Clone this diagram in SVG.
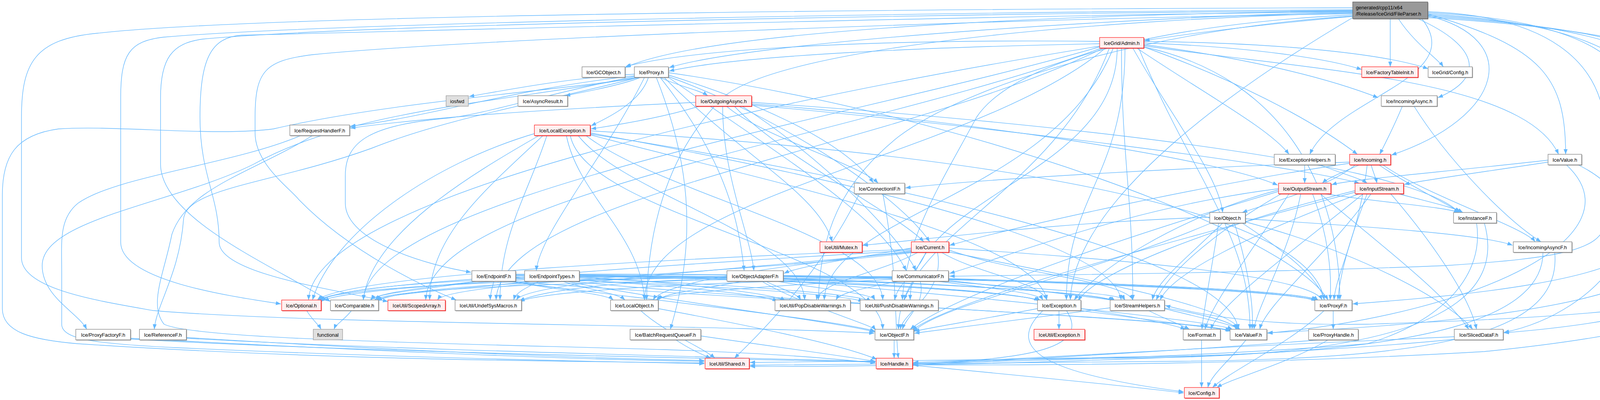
<svg xmlns="http://www.w3.org/2000/svg" width="4571" height="1024" viewBox="0 0 4571 1024">
<defs>
<marker id="arr" markerWidth="14" markerHeight="10" refX="13" refY="5" orient="auto" markerUnits="userSpaceOnUse"><path d="M0,0 L13,5 L0,10 z" fill="#63B8FF"/></marker>
<style>
.e{fill:none;stroke:#63B8FF;stroke-width:1.36;marker-end:url(#arr)}
.sh{fill:#7a7a7a}
.shr{fill:#d01010}
.b{fill:#ffffff;stroke:#8a8a8a;stroke-width:1.36}
.r{fill:#FFF0F0;stroke:#FF3030;stroke-width:1.36}
.g{fill:#E0E0E0;stroke:#A0A0A0;stroke-width:1.36}
.rt{fill:#999999;stroke:#666666;stroke-width:1.36}
text{font-family:"Liberation Sans",Arial,Helvetica,sans-serif;font-size:12.8px;fill:#000000}
.c{text-anchor:middle}
</style>
</defs>
<rect x="0" y="0" width="4571" height="1024" fill="#ffffff"/>
<g id="edges">
<!-- root -->
<path class="e" d="M3463,42 C3250,60 3050,85 2930,104"/>
<path class="e" d="M3463,31 C3000,40 1950,100 1713,173"/>
<path class="e" d="M3463,28 C3000,33 1850,60 1600,173"/>
<path class="e" d="M3559,48 L3559,171"/>
<path class="e" d="M3580,48 C3620,110 3680,150 3695,171"/>
<path class="e" d="M3630,48 C3790,120 3800,200 3681,250"/>
<path class="e" d="M3655,40 C3900,100 3850,300 3562,397"/>
<path class="e" d="M3655,36 C3950,120 4008,200 4008,395"/>
<path class="e" d="M3640,48 C3760,200 3420,250 3353,395"/>
<path class="e" d="M3463,25 C2500,30 900,55 420,95 C330,105 309,140 309,250 L309,620 C309,720 600,760 719,778"/>
<path class="e" d="M3463,27 C2500,35 950,60 520,100 C440,110 411,150 411,250 L411,420 C411,560 700,680 846,772"/>
<path class="e" d="M3463,30 C2500,40 1050,80 620,90 C540,95 512,150 512,300 C512,450 561,500 561,620 C561,700 850,740 993,772"/>
<path class="e" d="M3463,35 C2500,50 1200,100 800,140 C680,155 653,180 653,300 L653,340 C653,420 740,480 766,512 C900,650 1100,740 1168,768"/>
<path class="e" d="M3463,20 C2500,22 700,35 250,85 C90,100 55,160 55,300 L55,660 C55,740 250,770 392,795 C800,830 1800,830 2238,853"/>
<path class="e" d="M3463,38 C3000,60 2600,150 2500,300 C2420,450 2320,600 2310,768"/>
<path class="e" d="M3463,41 C3000,70 2500,200 2300,350 C2150,470 2100,600 2095,768"/>
<path class="e" d="M3463,33 C2800,50 2000,120 1850,250 C1700,400 1660,600 1655,768"/>
<path class="e" d="M3463,45 C3200,200 2750,500 2740,768"/>
<path class="e" d="M3655,30 C3950,40 4110,150 4110,350 L4110,560 C4110,640 4000,660 3700,680 C3200,700 2600,705 2431,707"/>
<path class="e" d="M3655,33 C4050,50 4211,150 4211,350 L4211,600 C4211,720 3700,760 3463,778"/>
<path class="e" d="M3655,36 C4100,60 4264,170 4264,370 L4264,640 C4264,800 3500,840 3245,852"/>
<path class="e" d="M3655,39 C4200,70 4402,190 4402,390 L4402,680 C4402,800 4000,840 3850,852"/>
<path class="e" d="M3655,42 C4300,80 4468,200 4468,400 L4468,700 C4468,800 3800,820 3500,830 C3200,835 3050,800 2983,782"/>
<path class="e" d="M3655,45 C4400,90 4568,220 4568,420 L4568,640 C4568,760 4300,850 3800,900 C3200,935 2600,935 2338,934"/>
<!-- Proxy.h -->
<path class="e" d="M1624,190 C1450,200 1300,230 1201,247"/>
<path class="e" d="M1640,198 C1600,215 1500,235 1447,245"/>
<path class="e" d="M1690,198 C1720,215 1790,230 1812,245"/>
<path class="e" d="M1660,198 C1640,260 1560,300 1513,322"/>
<path class="e" d="M1624,194 C1300,230 1100,300 897,323"/>
<path class="e" d="M1711,192 C1900,250 2150,350 2236,468"/>
<path class="e" d="M1640,198 C1450,230 1000,260 700,330 C550,350 300,320 150,330 C40,345 6,400 6,500 L6,790 C6,850 80,870 200,880 C800,920 1400,925 1803,929"/>
<path class="e" d="M1630,198 C1300,260 900,280 650,420 C450,520 108,560 108,680 C108,760 200,800 222,843"/>
<path class="e" d="M1635,198 C1400,260 1150,300 950,380 C700,470 480,480 470,560 C460,700 400,780 395,843"/>
<path class="e" d="M1624,196 C1400,240 1250,290 1150,302 C950,320 884,360 884,450 L884,520 C884,620 1100,680 1206,697"/>
<path class="e" d="M1650,198 C1550,400 1380,600 1373,693"/>
<path class="e" d="M1690,198 C1850,400 1890,550 1905,693"/>
<path class="e" d="M1700,198 C1900,400 2100,500 2130,619"/>
<path class="e" d="M1711,196 C2000,300 2300,500 2380,619"/>
<path class="e" d="M1711,198 C2000,400 2250,550 2320,693"/>
<path class="e" d="M1680,198 C1760,400 1790,600 1716,843"/>
<path class="e" d="M1711,186 C2500,300 3300,600 3400,768"/>
<!-- OutgoingAsync.h -->
<path class="e" d="M1790,272 C1700,300 1580,320 1513,330"/>
<path class="e" d="M1781,262 C1400,280 1100,300 897,328"/>
<path class="e" d="M1860,272 C1950,350 2200,420 2248,469"/>
<path class="e" d="M1924,262 C2500,300 3600,400 3735,544"/>
<path class="e" d="M1924,266 C2400,300 3100,400 3271,474"/>
<path class="e" d="M1924,269 C2500,320 3300,420 3480,469"/>
<path class="e" d="M1880,272 C2000,400 2300,550 2365,619"/>
<path class="e" d="M1850,272 C1850,450 1920,600 1930,693"/>
<path class="e" d="M1900,272 C2100,400 2300,600 2345,693"/>
<!-- LocalException.h -->
<path class="e" d="M1375,340 C1100,420 850,600 800,768"/>
<path class="e" d="M1380,347 C1200,450 950,600 930,768"/>
<path class="e" d="M1390,347 C1250,480 1100,600 1100,768"/>
<path class="e" d="M1400,347 C1350,500 1280,600 1280,768"/>
<path class="e" d="M1450,347 C1480,500 1640,600 1650,768"/>
<path class="e" d="M1480,347 C1600,500 2050,600 2060,768"/>
<path class="e" d="M1500,347 C1700,500 2250,600 2260,768"/>
<path class="e" d="M1511,345 C1900,450 2650,600 2680,768"/>
<path class="e" d="M1511,340 C2000,430 2850,600 2870,768"/>
<path class="e" d="M1511,335 C2300,380 3350,500 3390,768"/>
<path class="e" d="M1460,347 C1500,550 2250,650 2260,843"/>
<path class="e" d="M1511,343 C2200,450 3150,650 3170,843"/>
<!-- IceGrid/Admin.h -->
<path class="e" d="M2815,112 C2400,120 1900,140 1713,182"/>
<path class="e" d="M2815,106 C2300,100 1800,120 1602,170"/>
<path class="e" d="M2928,110 C3200,120 3400,150 3486,178"/>
<path class="e" d="M2928,106 C3300,110 3550,140 3656,176"/>
<path class="e" d="M2928,114 C3200,150 3400,200 3528,250"/>
<path class="e" d="M2928,120 C3150,200 3350,300 3475,395"/>
<path class="e" d="M2928,117 C3350,180 3900,200 3990,395"/>
<path class="e" d="M2910,123 C3100,250 3250,330 3300,395"/>
<path class="e" d="M2900,123 C3000,300 3120,450 3130,544"/>
<path class="e" d="M2860,123 C2860,450 2330,500 2330,768"/>
<path class="e" d="M2928,120 C3300,200 3430,500 3430,768"/>
<path class="e" d="M2840,123 C2700,500 2300,600 2300,843"/>
<path class="e" d="M2915,123 C3050,450 3200,600 3200,843"/>
<path class="e" d="M2880,123 C2880,450 2730,500 2730,768"/>
<path class="e" d="M2830,123 C2500,400 1650,500 1650,768"/>
<path class="e" d="M2871,123 C2871,400 2900,500 2900,768"/>
<path class="e" d="M2815,120 C2200,300 950,500 930,768"/>
<path class="e" d="M2815,118 C2000,250 800,500 790,768"/>
<path class="e" d="M2820,123 C2200,350 1100,500 1090,768"/>
<path class="e" d="M2825,123 C2300,380 1280,500 1270,768"/>
<path class="e" d="M2850,123 C2700,500 2120,550 2110,768"/>
<!-- Current.h -->
<path class="e" d="M2333,635 C2200,660 2050,680 2007,700"/>
<path class="e" d="M2370,646 C2350,700 2300,720 2290,768"/>
<path class="e" d="M2350,646 C2250,700 2100,720 2090,768"/>
<path class="e" d="M2410,646 C2500,700 2660,720 2680,768"/>
<path class="e" d="M2429,640 C2600,700 2880,720 2900,768"/>
<path class="e" d="M2429,635 C2800,660 3350,700 3385,768"/>
<path class="e" d="M2400,646 C2420,750 2310,800 2305,843"/>
<path class="e" d="M2429,645 C2700,700 3150,780 3172,843"/>
<path class="e" d="M2333,643 C2000,680 1700,720 1672,768"/>
<path class="e" d="M2333,645 C1900,690 1350,720 1322,768"/>
<path class="e" d="M2333,638 C1800,660 900,700 812,768"/>
<path class="e" d="M2333,641 C1850,670 1000,720 948,768"/>
<path class="e" d="M2340,646 C1900,700 1150,720 1120,768"/>
<!-- CommunicatorF.h -->
<path class="e" d="M2340,720 C2330,740 2320,750 2315,768"/>
<path class="e" d="M2300,720 C2200,740 2150,750 2140,768"/>
<path class="e" d="M2400,720 C2550,740 2660,750 2670,768"/>
<path class="e" d="M2420,720 C2650,740 2870,750 2880,768"/>
<path class="e" d="M2428,715 C2900,730 3350,750 3370,772"/>
<path class="e" d="M2356,720 C2370,780 2320,810 2310,843"/>
<path class="e" d="M2428,718 C2800,760 3150,800 3165,843"/>
<path class="e" d="M2284,715 C2000,730 1700,750 1680,768"/>
<path class="e" d="M2284,712 C1900,720 1400,740 1330,772"/>
<path class="e" d="M2284,710 C1800,715 1000,730 960,768"/>
<path class="e" d="M2284,708 C1800,705 900,720 815,768"/>
<!-- ObjectAdapterF.h -->
<path class="e" d="M1990,720 C2100,740 2230,750 2240,768"/>
<path class="e" d="M1960,720 C2000,740 2040,750 2050,768"/>
<path class="e" d="M2005,715 C2300,730 2640,750 2660,772"/>
<path class="e" d="M2005,712 C2400,725 2830,750 2850,772"/>
<path class="e" d="M2005,709 C2600,715 3300,740 3370,770"/>
<path class="e" d="M1950,720 C2050,780 2230,830 2242,845"/>
<path class="e" d="M2005,718 C2500,760 3100,820 3155,843"/>
<path class="e" d="M1900,720 C1800,740 1700,750 1685,768"/>
<path class="e" d="M1861,712 C1600,720 1400,740 1330,770"/>
<path class="e" d="M1861,710 C1500,715 1050,730 965,770"/>
<path class="e" d="M1861,708 C1400,705 900,720 818,770"/>
<!-- EndpointF.h -->
<path class="e" d="M1320,712 C1700,725 2150,750 2210,772"/>
<path class="e" d="M1320,709 C1600,720 1950,750 1990,772"/>
<path class="e" d="M1320,706 C1900,710 2600,740 2660,770"/>
<path class="e" d="M1320,704 C2000,705 2800,740 2850,770"/>
<path class="e" d="M1320,702 C2200,700 3300,730 3370,768"/>
<path class="e" d="M1300,720 C1600,760 2150,820 2240,848"/>
<path class="e" d="M1310,720 C1900,770 3000,810 3150,846"/>
<path class="e" d="M1310,720 C1400,740 1550,750 1570,768"/>
<path class="e" d="M1264,720 C1260,740 1255,750 1255,768"/>
<path class="e" d="M1220,720 C1100,740 960,750 950,768"/>
<path class="e" d="M1208,715 C1000,730 830,750 820,770"/>
<!-- EndpointTypes.h -->
<path class="e" d="M1483,712 C1800,725 2200,750 2230,772"/>
<path class="e" d="M1483,709 C1700,720 1980,750 2010,770"/>
<path class="e" d="M1483,706 C2000,712 2620,745 2665,771"/>
<path class="e" d="M1483,704 C2100,706 2820,745 2855,771"/>
<path class="e" d="M1483,702 C2300,700 3330,735 3375,769"/>
<path class="e" d="M1450,720 C1700,770 2150,825 2240,850"/>
<path class="e" d="M1460,720 C2000,775 3050,815 3152,848"/>
<path class="e" d="M1440,720 C1500,740 1580,750 1600,768"/>
<path class="e" d="M1380,720 C1340,740 1320,750 1315,768"/>
<path class="e" d="M1360,720 C1200,740 980,750 965,770"/>
<path class="e" d="M1343,716 C1100,730 850,750 822,772"/>
<!-- ExceptionHelpers / Incoming / Value / IncomingAsync -->
<path class="e" d="M3340,422 L3340,469"/>
<path class="e" d="M3380,422 C3420,440 3480,455 3500,469"/>
<path class="e" d="M3480,422 C3440,440 3400,455 3385,469"/>
<path class="e" d="M3510,422 C3515,440 3522,455 3525,469"/>
<path class="e" d="M3455,415 C3000,430 2500,460 2318,481"/>
<path class="e" d="M3470,422 C3400,480 3250,520 3180,544"/>
<path class="e" d="M3455,418 C3100,470 2600,580 2431,628"/>
<path class="e" d="M3530,422 C3600,470 3700,520 3740,544"/>
<path class="e" d="M3540,422 C3650,500 3900,580 3930,619"/>
<path class="e" d="M3500,422 C3480,600 3420,700 3415,768"/>
<path class="e" d="M3963,410 C3700,440 3450,460 3409,473"/>
<path class="e" d="M3963,415 C3800,440 3650,460 3595,472"/>
<path class="e" d="M4040,422 C4300,550 4100,800 3850,851"/>
<path class="e" d="M4010,422 C4200,600 3800,800 3245,853"/>
<path class="e" d="M3590,272 C3570,320 3550,360 3532,395"/>
<path class="e" d="M3620,272 C3700,400 3850,560 3945,619"/>
<!-- OutputStream.h -->
<path class="e" d="M3280,496 C3100,600 2990,700 2960,768"/>
<path class="e" d="M3360,496 C3400,600 3410,700 3405,768"/>
<path class="e" d="M3300,496 C3200,650 3100,780 3085,843"/>
<path class="e" d="M3330,496 C3300,650 3220,780 3210,843"/>
<path class="e" d="M3273,490 C2900,600 2450,750 2330,843"/>
<path class="e" d="M3273,486 C3000,560 2800,700 2750,768"/>
<path class="e" d="M3390,496 C3550,520 3700,530 3735,544"/>
<path class="e" d="M3380,496 C3500,600 3700,750 3760,843"/>
<path class="e" d="M3273,483 C2900,530 2600,650 2431,700"/>
<!-- InputStream.h -->
<path class="e" d="M3480,496 C3200,600 3000,700 2970,768"/>
<path class="e" d="M3500,496 C3460,600 3430,700 3425,768"/>
<path class="e" d="M3490,496 C3300,650 3120,780 3100,843"/>
<path class="e" d="M3510,496 C3400,650 3240,780 3225,843"/>
<path class="e" d="M3469,492 C3000,620 2450,760 2335,845"/>
<path class="e" d="M3469,488 C3100,580 2800,700 2760,770"/>
<path class="e" d="M3580,496 C3650,515 3720,530 3745,544"/>
<path class="e" d="M3560,496 C3650,600 3760,750 3780,843"/>
<!-- Object.h -->
<path class="e" d="M3100,571 C2800,700 2400,780 2338,850"/>
<path class="e" d="M3180,571 C3300,650 3380,720 3390,768"/>
<path class="e" d="M3097,556 C2700,570 2400,610 2209,628"/>
<path class="e" d="M3188,560 C3500,580 3800,600 3872,628"/>
<path class="e" d="M3120,571 C3100,700 3080,800 3077,843"/>
<path class="e" d="M3130,571 C3050,650 2960,720 2950,768"/>
<path class="e" d="M3160,571 C3200,700 3210,800 3205,843"/>
<path class="e" d="M3188,568 C3500,650 3720,780 3770,843"/>
<!-- F headers to Shared / Handle -->
<path class="e" d="M3780,571 C3800,700 3700,820 3500,880 C3000,920 2500,925 2338,930"/>
<path class="e" d="M3800,571 C3850,750 3700,900 3000,915 C2500,920 2000,925 1920,928"/>
<path class="e" d="M3950,646 C3950,800 3700,900 3000,912 C2600,918 2400,925 2338,928"/>
<path class="e" d="M3980,646 C4000,850 3700,920 3000,925 C2400,930 2000,935 1920,935"/>
<path class="e" d="M3723,862 C3300,880 2600,915 2338,932"/>
<path class="e" d="M3730,868 C3200,920 2300,940 1920,938"/>
<path class="e" d="M3380,870 C3000,900 2600,920 2338,935"/>
<path class="e" d="M3400,870 C3300,930 3150,970 3115,992"/>
<path class="e" d="M3413,795 L3413,843"/>
<path class="e" d="M3390,795 C3300,880 3150,950 3104,992"/>
<path class="e" d="M3190,870 C3150,920 3100,960 3092,992"/>
<path class="e" d="M3076,870 L3076,992"/>
<path class="e" d="M2289,870 L2289,917"/>
<path class="e" d="M2711,795 L2711,843"/>
<path class="e" d="M2767,790 C2900,810 3000,830 3035,843"/>
<path class="e" d="M2767,795 C2950,820 3100,840 3155,845"/>
<path class="e" d="M2670,795 C2560,900 2700,960 3030,1003"/>
<path class="e" d="M2656,790 C2500,820 2400,835 2341,848"/>
<path class="e" d="M2730,795 C2800,900 2600,920 2338,931"/>
<path class="e" d="M2842,788 C2600,820 2450,840 2341,853"/>
<path class="e" d="M2940,795 C2990,820 3020,830 3045,843"/>
<path class="e" d="M2981,790 C3080,815 3150,830 3175,843"/>
<path class="e" d="M2336,935 C2600,960 2900,990 3030,1006"/>
<path class="e" d="M2200,496 C2100,700 1950,850 1880,917"/>
<path class="e" d="M2260,496 C2300,700 2290,850 2300,917"/>
<path class="e" d="M785,795 C800,820 815,830 822,843"/>
<path class="e" d="M900,795 C880,820 860,830 855,843"/>
<path class="e" d="M1730,870 C1760,890 1790,905 1820,917"/>
<path class="e" d="M1794,860 C2000,890 2150,910 2241,925"/>
<path class="e" d="M334,866 C800,890 1400,920 1803,925"/>
<path class="e" d="M334,868 C900,900 1700,915 2241,927"/>
<path class="e" d="M477,864 C900,890 1400,915 1803,923"/>
<path class="e" d="M477,866 C1000,895 1700,910 2241,926"/>
<path class="e" d="M1640,795 C1700,850 1800,890 1830,917"/>
<path class="e" d="M1685,790 C1900,830 2150,880 2245,920"/>
<path class="e" d="M770,347 C600,420 300,450 200,520 C150,560 158,620 158,700 L158,830 C158,870 250,880 450,890 C1000,915 1500,925 1803,931"/>
<path class="e" d="M800,347 C650,440 480,480 440,600 C420,700 380,780 420,830 C500,870 1200,880 1700,895 C2000,905 2150,920 2241,929"/>
</g>
<g id="n_root"><rect class="sh" x="3464.5" y="6.5" width="192" height="43"/><rect class="rt" x="3463" y="5" width="192" height="43"/><text x="3471" y="23.5">generated/cpp11/x64</text><text x="3471" y="40">/Release/IceGrid/FileParser.h</text></g>
<g id="n_admin"><rect class="shr" x="2816.5" y="97.5" width="113" height="27"/><rect class="r" x="2815" y="96" width="113" height="27"/><text class="c" x="2871.5" y="114.5">IceGrid/Admin.h</text></g>
<g id="n_gcobj"><rect class="sh" x="1491.5" y="172.5" width="110" height="27"/><rect class="b" x="1490" y="171" width="110" height="27"/><text class="c" x="1545" y="189.5">Ice/GCObject.h</text></g>
<g id="n_proxy"><rect class="sh" x="1625.5" y="172.5" width="87" height="27"/><rect class="b" x="1624" y="171" width="87" height="27"/><text class="c" x="1667.5" y="189.5">Ice/Proxy.h</text></g>
<g id="n_fti"><rect class="shr" x="3487.5" y="172.5" width="144" height="27"/><rect class="r" x="3486" y="171" width="144" height="27"/><text class="c" x="3558" y="189.5">Ice/FactoryTableInit.h</text></g>
<g id="n_igcfg"><rect class="sh" x="3657.5" y="172.5" width="113" height="27"/><rect class="b" x="3656" y="171" width="113" height="27"/><text class="c" x="3712.5" y="189.5">IceGrid/Config.h</text></g>
<g id="n_iosfwd"><rect class="g" x="1142" y="245" width="57" height="27"/><text class="c" x="1170.5" y="263.5">iosfwd</text></g>
<g id="n_asyncres"><rect class="sh" x="1327.5" y="246.5" width="127" height="27"/><rect class="b" x="1326" y="245" width="127" height="27"/><text class="c" x="1389.5" y="263.5">Ice/AsyncResult.h</text></g>
<g id="n_outasync"><rect class="shr" x="1782.5" y="246.5" width="143" height="27"/><rect class="r" x="1781" y="245" width="143" height="27"/><text class="c" x="1852.5" y="263.5">Ice/OutgoingAsync.h</text></g>
<g id="n_inasync"><rect class="sh" x="3537.5" y="246.5" width="143" height="27"/><rect class="b" x="3536" y="245" width="143" height="27"/><text class="c" x="3607.5" y="263.5">Ice/IncomingAsync.h</text></g>
<g id="n_reqh"><rect class="sh" x="743.5" y="321.5" width="153" height="27"/><rect class="b" x="742" y="320" width="153" height="27"/><text class="c" x="818.5" y="338.5">Ice/RequestHandlerF.h</text></g>
<g id="n_locexc"><rect class="shr" x="1369.5" y="321.5" width="143" height="27"/><rect class="r" x="1368" y="320" width="143" height="27"/><text class="c" x="1439.5" y="338.5">Ice/LocalException.h</text></g>
<g id="n_exchelp"><rect class="sh" x="3263.5" y="396.5" width="156" height="27"/><rect class="b" x="3262" y="395" width="156" height="27"/><text class="c" x="3340" y="413.5">Ice/ExceptionHelpers.h</text></g>
<g id="n_incoming"><rect class="shr" x="3456.5" y="396.5" width="105" height="27"/><rect class="r" x="3455" y="395" width="105" height="27"/><text class="c" x="3507.5" y="413.5">Ice/Incoming.h</text></g>
<g id="n_value"><rect class="sh" x="3964.5" y="396.5" width="86" height="27"/><rect class="b" x="3963" y="395" width="86" height="27"/><text class="c" x="4006" y="413.5">Ice/Value.h</text></g>
<g id="n_connif"><rect class="sh" x="2188.5" y="470.5" width="129" height="27"/><rect class="b" x="2187" y="469" width="129" height="27"/><text class="c" x="2251.5" y="487.5">Ice/ConnectionIF.h</text></g>
<g id="n_outstr"><rect class="shr" x="3274.5" y="470.5" width="134" height="27"/><rect class="r" x="3273" y="469" width="134" height="27"/><text class="c" x="3340" y="487.5">Ice/OutputStream.h</text></g>
<g id="n_instr"><rect class="shr" x="3470.5" y="470.5" width="124" height="27"/><rect class="r" x="3469" y="469" width="124" height="27"/><text class="c" x="3531" y="487.5">Ice/InputStream.h</text></g>
<g id="n_object"><rect class="sh" x="3098.5" y="545.5" width="91" height="27"/><rect class="b" x="3097" y="544" width="91" height="27"/><text class="c" x="3142.5" y="562.5">Ice/Object.h</text></g>
<g id="n_instf"><rect class="sh" x="3722.5" y="545.5" width="110" height="27"/><rect class="b" x="3721" y="544" width="110" height="27"/><text class="c" x="3776" y="562.5">Ice/InstanceF.h</text></g>
<g id="n_mutex"><rect class="shr" x="2100.5" y="620.5" width="108" height="27"/><rect class="r" x="2099" y="619" width="108" height="27"/><text class="c" x="2153" y="637.5">IceUtil/Mutex.h</text></g>
<g id="n_current"><rect class="shr" x="2334.5" y="620.5" width="96" height="27"/><rect class="r" x="2333" y="619" width="96" height="27"/><text class="c" x="2381" y="637.5">Ice/Current.h</text></g>
<g id="n_inasyncf"><rect class="sh" x="3875.5" y="620.5" width="150" height="27"/><rect class="b" x="3874" y="619" width="150" height="27"/><text class="c" x="3949" y="637.5">Ice/IncomingAsyncF.h</text></g>
<g id="n_endpf"><rect class="sh" x="1209.5" y="694.5" width="112" height="27"/><rect class="b" x="1208" y="693" width="112" height="27"/><text class="c" x="1264" y="711.5">Ice/EndpointF.h</text></g>
<g id="n_endpt"><rect class="sh" x="1344.5" y="694.5" width="140" height="27"/><rect class="b" x="1343" y="693" width="140" height="27"/><text class="c" x="1413" y="711.5">Ice/EndpointTypes.h</text></g>
<g id="n_oaf"><rect class="sh" x="1862.5" y="694.5" width="144" height="27"/><rect class="b" x="1861" y="693" width="144" height="27"/><text class="c" x="1933" y="711.5">Ice/ObjectAdapterF.h</text></g>
<g id="n_commf"><rect class="sh" x="2285.5" y="694.5" width="144" height="27"/><rect class="b" x="2284" y="693" width="144" height="27"/><text class="c" x="2356" y="711.5">Ice/CommunicatorF.h</text></g>
<g id="n_optional"><rect class="shr" x="722.5" y="769.5" width="101" height="27"/><rect class="r" x="721" y="768" width="101" height="27"/><text class="c" x="771.5" y="786.5">Ice/Optional.h</text></g>
<g id="n_comparable"><rect class="sh" x="847.5" y="769.5" width="123" height="27"/><rect class="b" x="846" y="768" width="123" height="27"/><text class="c" x="907.5" y="786.5">Ice/Comparable.h</text></g>
<g id="n_scoped"><rect class="shr" x="994.5" y="769.5" width="147" height="27"/><rect class="r" x="993" y="768" width="147" height="27"/><text class="c" x="1066.5" y="786.5">IceUtil/ScopedArray.h</text></g>
<g id="n_undef"><rect class="sh" x="1166.5" y="769.5" width="170" height="27"/><rect class="b" x="1165" y="768" width="170" height="27"/><text class="c" x="1250" y="786.5">IceUtil/UndefSysMacros.h</text></g>
<g id="n_locobj"><rect class="sh" x="1564.5" y="769.5" width="122" height="27"/><rect class="b" x="1563" y="768" width="122" height="27"/><text class="c" x="1624" y="786.5">Ice/LocalObject.h</text></g>
<g id="n_popdis"><rect class="sh" x="1985.5" y="769.5" width="193" height="27"/><rect class="b" x="1984" y="768" width="193" height="27"/><text class="c" x="2080.5" y="786.5">IceUtil/PopDisableWarnings.h</text></g>
<g id="n_pushdis"><rect class="sh" x="2203.5" y="769.5" width="200" height="27"/><rect class="b" x="2202" y="768" width="200" height="27"/><text class="c" x="2302" y="786.5">IceUtil/PushDisableWarnings.h</text></g>
<g id="n_exception"><rect class="sh" x="2657.5" y="769.5" width="111" height="27"/><rect class="b" x="2656" y="768" width="111" height="27"/><text class="c" x="2711.5" y="786.5">Ice/Exception.h</text></g>
<g id="n_streamh"><rect class="sh" x="2843.5" y="769.5" width="139" height="27"/><rect class="b" x="2842" y="768" width="139" height="27"/><text class="c" x="2911.5" y="786.5">Ice/StreamHelpers.h</text></g>
<g id="n_proxyf"><rect class="sh" x="3367.5" y="769.5" width="95" height="27"/><rect class="b" x="3366" y="768" width="95" height="27"/><text class="c" x="3413.5" y="786.5">Ice/ProxyF.h</text></g>
<g id="n_pfactf"><rect class="sh" x="195.5" y="844.5" width="140" height="27"/><rect class="b" x="194" y="843" width="140" height="27"/><text class="c" x="264" y="861.5">Ice/ProxyFactoryF.h</text></g>
<g id="n_reff"><rect class="sh" x="358.5" y="844.5" width="120" height="27"/><rect class="b" x="357" y="843" width="120" height="27"/><text class="c" x="417" y="861.5">Ice/ReferenceF.h</text></g>
<g id="n_functional"><rect class="g" x="802" y="843" width="75" height="27"/><text class="c" x="839.5" y="861.5">functional</text></g>
<g id="n_brqf"><rect class="sh" x="1614.5" y="844.5" width="181" height="27"/><rect class="b" x="1613" y="843" width="181" height="27"/><text class="c" x="1703.5" y="861.5">Ice/BatchRequestQueueF.h</text></g>
<g id="n_objectf"><rect class="sh" x="2241.5" y="844.5" width="99" height="27"/><rect class="b" x="2240" y="843" width="99" height="27"/><text class="c" x="2289.5" y="861.5">Ice/ObjectF.h</text></g>
<g id="n_iuexc"><rect class="shr" x="2648.5" y="844.5" width="130" height="27"/><rect class="r" x="2647" y="843" width="130" height="27"/><text class="c" x="2712" y="861.5">IceUtil/Exception.h</text></g>
<g id="n_format"><rect class="sh" x="3030.5" y="844.5" width="95" height="27"/><rect class="b" x="3029" y="843" width="95" height="27"/><text class="c" x="3076.5" y="861.5">Ice/Format.h</text></g>
<g id="n_valuef"><rect class="sh" x="3150.5" y="844.5" width="94" height="27"/><rect class="b" x="3149" y="843" width="94" height="27"/><text class="c" x="3196" y="861.5">Ice/ValueF.h</text></g>
<g id="n_proxyhandle"><rect class="sh" x="3351.5" y="844.5" width="127" height="27"/><rect class="b" x="3350" y="843" width="127" height="27"/><text class="c" x="3413.5" y="861.5">Ice/ProxyHandle.h</text></g>
<g id="n_slicedf"><rect class="sh" x="3724.5" y="844.5" width="125" height="27"/><rect class="b" x="3723" y="843" width="125" height="27"/><text class="c" x="3785.5" y="861.5">Ice/SlicedDataF.h</text></g>
<g id="n_shared"><rect class="shr" x="1806.5" y="918.5" width="113" height="27"/><rect class="r" x="1805" y="917" width="113" height="27"/><text class="c" x="1861.5" y="935.5">IceUtil/Shared.h</text></g>
<g id="n_handle"><rect class="shr" x="2244.5" y="918.5" width="93" height="27"/><rect class="r" x="2243" y="917" width="93" height="27"/><text class="c" x="2289.5" y="935.5">Ice/Handle.h</text></g>
<g id="n_config"><rect class="shr" x="3033.5" y="993.5" width="89" height="27"/><rect class="r" x="3032" y="992" width="89" height="27"/><text class="c" x="3076.5" y="1010.5">Ice/Config.h</text></g>
</svg>
